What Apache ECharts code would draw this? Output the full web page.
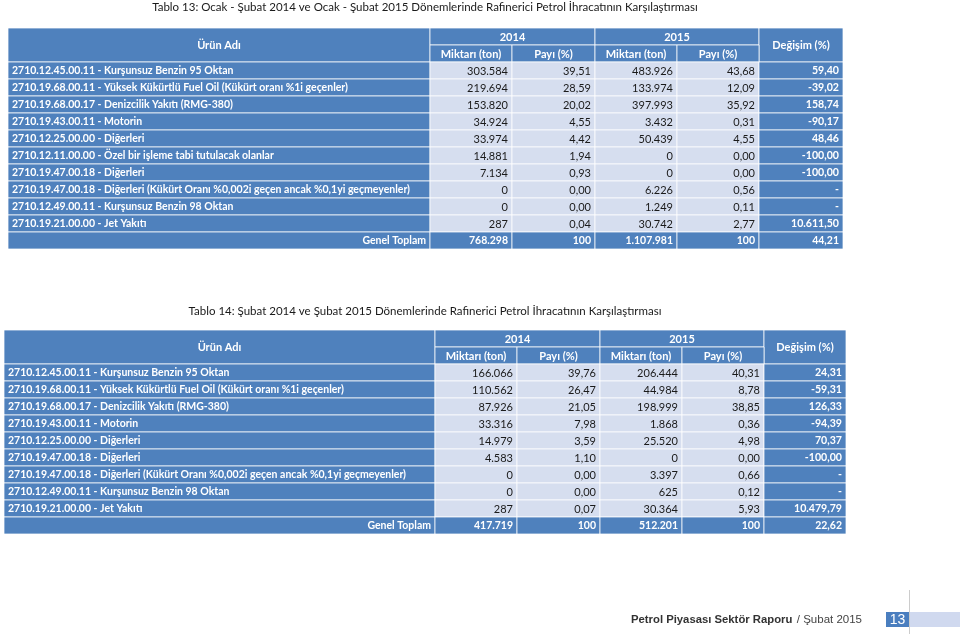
<!DOCTYPE html>
<html>
<head>
<meta charset="utf-8">
<script src="https://cdn.jsdelivr.net/npm/echarts@6/dist/echarts.min.js"></script>
<style>
html,body{margin:0;padding:0;background:#fff;}
#main{width:960px;height:634px;}
</style>
</head>
<body>
<div id="main"></div>
<script>
// ---------- DATA ----------
var title13 = 'Tablo 13: Ocak - Şubat 2014 ve Ocak - Şubat 2015 Dönemlerinde Rafinerici Petrol İhracatının Karşılaştırması';
var title14 = 'Tablo 14: Şubat 2014 ve Şubat 2015 Dönemlerinde Rafinerici Petrol İhracatının Karşılaştırması';
var headerYears = ['2014', '2015'];
var headerCols = ['Ürün Adı', 'Miktarı (ton)', 'Payı (%)', 'Miktarı (ton)', 'Payı (%)', 'Değişim (%)'];
var totalLabel = 'Genel Toplam';

var products13 = [
  '2710.12.45.00.11 - Kurşunsuz Benzin 95 Oktan',
  '2710.19.68.00.11 - Yüksek Kükürtlü Fuel Oil (Kükürt oranı %1i geçenler)',
  '2710.19.68.00.17 - Denizcilik Yakıtı (RMG-380)',
  '2710.19.43.00.11 - Motorin',
  '2710.12.25.00.00 - Diğerleri',
  '2710.12.11.00.00 - Özel bir işleme tabi tutulacak olanlar',
  '2710.19.47.00.18 - Diğerleri',
  '2710.19.47.00.18 - Diğerleri (Kükürt Oranı %0,002i geçen ancak %0,1yi geçmeyenler)',
  '2710.12.49.00.11 - Kurşunsuz Benzin 98 Oktan',
  '2710.19.21.00.00 - Jet Yakıtı'
];
var miktar2014_13 = [303584, 219694, 153820, 34924, 33974, 14881, 7134, 0, 0, 287];
var payi2014_13   = [39.51, 28.59, 20.02, 4.55, 4.42, 1.94, 0.93, 0.00, 0.00, 0.04];
var miktar2015_13 = [483926, 133974, 397993, 3432, 50439, 0, 0, 6226, 1249, 30742];
var payi2015_13   = [43.68, 12.09, 35.92, 0.31, 4.55, 0.00, 0.00, 0.56, 0.11, 2.77];
var degisim13     = [59.40, -39.02, 158.74, -90.17, 48.46, -100.00, -100.00, null, null, 10611.50];
var total13       = [768298, 100, 1107981, 100, 44.21];

var products14 = [
  '2710.12.45.00.11 - Kurşunsuz Benzin 95 Oktan',
  '2710.19.68.00.11 - Yüksek Kükürtlü Fuel Oil (Kükürt oranı %1i geçenler)',
  '2710.19.68.00.17 - Denizcilik Yakıtı (RMG-380)',
  '2710.19.43.00.11 - Motorin',
  '2710.12.25.00.00 - Diğerleri',
  '2710.19.47.00.18 - Diğerleri',
  '2710.19.47.00.18 - Diğerleri (Kükürt Oranı %0,002i geçen ancak %0,1yi geçmeyenler)',
  '2710.12.49.00.11 - Kurşunsuz Benzin 98 Oktan',
  '2710.19.21.00.00 - Jet Yakıtı'
];
var miktar2014_14 = [166066, 110562, 87926, 33316, 14979, 4583, 0, 0, 287];
var payi2014_14   = [39.76, 26.47, 21.05, 7.98, 3.59, 1.10, 0.00, 0.00, 0.07];
var miktar2015_14 = [206444, 44984, 198999, 1868, 25520, 0, 3397, 625, 30364];
var payi2015_14   = [40.31, 8.78, 38.85, 0.36, 4.98, 0.00, 0.66, 0.12, 5.93];
var degisim14     = [24.31, -59.31, 126.33, -94.39, 70.37, -100.00, null, null, 10479.79];
var total14       = [417719, 100, 512201, 100, 22.62];

// ---------- LAYOUT / STYLE ----------
var BLUE = '#4f81bd', LIGHT = '#d6deef';
var FONT = 'Lato, "Liberation Sans", sans-serif';
var FOOT = '"Liberation Sans", Arial, sans-serif';
var SIZE = { name: 10.5, val: 11, deg: 10.6, tot: 10.5, hc: 11 };

function grp(s) { return s.replace(/\B(?=(\d{3})+(?!\d))/g, '.'); }
function fmtInt(n) { return (n < 0 ? '-' : '') + grp(String(Math.abs(Math.round(n)))); }
function fmtDec(n) {
  if (n === null || n === undefined) return '-';
  var s = Math.abs(n).toFixed(2).split('.');
  return (n < 0 ? '-' : '') + grp(s[0]) + ',' + s[1];
}

function buildTable(edges, products, m14, p14, m15, p15, deg, tot) {
  var data = [], meta = [];
  function add(c0, c1, r0, r1, text, kind) {
    data.push([edges[c0], edges[c1], r0, r1]);
    meta.push({ text: text, kind: kind });
  }
  add(0, 1, 0, 1, headerCols[0], 'hc');
  add(1, 3, 0, 0, headerYears[0], 'hc');
  add(3, 5, 0, 0, headerYears[1], 'hc');
  add(5, 6, 0, 1, headerCols[5], 'hc');
  for (var c = 1; c <= 4; c++) add(c, c + 1, 1, 1, headerCols[c], 'hc');
  for (var i = 0; i < products.length; i++) {
    var r = i + 2;
    add(0, 1, r, r, products[i], 'name');
    add(1, 2, r, r, fmtInt(m14[i]), 'val');
    add(2, 3, r, r, fmtDec(p14[i]), 'val');
    add(3, 4, r, r, fmtInt(m15[i]), 'val');
    add(4, 5, r, r, fmtDec(p15[i]), 'val');
    add(5, 6, r, r, fmtDec(deg[i]), 'deg');
  }
  var rt = products.length + 2;
  add(0, 1, rt, rt, totalLabel, 'tot');
  add(1, 2, rt, rt, fmtInt(tot[0]), 'tot');
  add(2, 3, rt, rt, fmtInt(tot[1]), 'tot');
  add(3, 4, rt, rt, fmtInt(tot[2]), 'tot');
  add(4, 5, rt, rt, fmtInt(tot[3]), 'tot');
  add(5, 6, rt, rt, fmtDec(tot[4]), 'tot');
  var rows = [];
  for (var k = 0; k <= rt; k++) rows.push('r' + k);
  return { data: data, meta: meta, rows: rows };
}

var edges13 = [0, 422, 504, 587, 669, 751, 835];
var edges14 = [0, 431, 513, 596, 678, 760, 842];
var t13 = buildTable(edges13, products13, miktar2014_13, payi2014_13, miktar2015_13, payi2015_13, degisim13, total13);
var t14 = buildTable(edges14, products14, miktar2014_14, payi2014_14, miktar2015_14, payi2015_14, degisim14, total14);

function makeRender(meta) {
  return function (params, api) {
    var m = meta[params.dataIndex];
    var x0 = api.value(0), x1 = api.value(1), r0 = api.value(2), r1 = api.value(3);
    var h = api.size([0, 1])[1];
    var p0 = api.coord([x0, r0]);
    var p1 = api.coord([x1, r1]);
    var top = p0[1] - h / 2, bottom = p1[1] + h / 2;
    var left = p0[0], right = p1[0];
    var fill = (m.kind === 'val') ? LIGHT : BLUE;
    var isBold = m.kind !== 'val';
    var color = m.kind === 'val' ? '#1a1a1a' : '#ffffff';
    var align, tx;
    if (m.kind === 'hc') { align = 'center'; tx = (left + right) / 2; }
    else if (m.kind === 'name') { align = 'left'; tx = left + 4; }
    else { align = 'right'; tx = right - 4; }
    return {
      type: 'group',
      children: [
        { type: 'rect', shape: { x: left, y: top, width: right - left, height: bottom - top },
          style: { fill: fill, stroke: 'rgba(255,255,255,0.75)', lineWidth: 1 } },
        { type: 'text', style: { text: m.text, x: tx, y: (top + bottom) / 2 + 0.5, fill: color,
          font: (isBold ? 'bold ' : '') + SIZE[m.kind] + 'px ' + FONT, align: align, verticalAlign: 'middle' } }
      ]
    };
  };
}

var chart = echarts.init(document.getElementById('main'), null, { renderer: 'canvas' });
var option = {
  backgroundColor: '#ffffff',
  animation: false,
  title: [
    { text: title13, left: 425, top: 0, textAlign: 'center', padding: 0,
      textStyle: { fontFamily: FONT, fontSize: 11.5, fontWeight: 'normal', color: '#1a1a1a', lineHeight: 15 } },
    { text: title14, left: 425, top: 304, textAlign: 'center', padding: 0,
      textStyle: { fontFamily: FONT, fontSize: 11.5, fontWeight: 'normal', color: '#1a1a1a', lineHeight: 15 } }
  ],
  grid: [
    { left: 8, top: 28, width: 835, height: 17 * t13.rows.length },
    { left: 4, top: 330, width: 842, height: 17 * t14.rows.length }
  ],
  xAxis: [
    { type: 'value', gridIndex: 0, min: 0, max: 835, show: false },
    { type: 'value', gridIndex: 1, min: 0, max: 842, show: false }
  ],
  yAxis: [
    { type: 'category', gridIndex: 0, data: t13.rows, inverse: true, show: false },
    { type: 'category', gridIndex: 1, data: t14.rows, inverse: true, show: false }
  ],
  series: [
    { type: 'custom', xAxisIndex: 0, yAxisIndex: 0, data: t13.data, renderItem: makeRender(t13.meta), silent: true },
    { type: 'custom', xAxisIndex: 1, yAxisIndex: 1, data: t14.data, renderItem: makeRender(t14.meta), silent: true }
  ],
  graphic: [
    { type: 'line', shape: { x1: 909.5, y1: 590, x2: 909.5, y2: 634 }, style: { stroke: '#cccccc', lineWidth: 1 } },
    { type: 'rect', shape: { x: 910, y: 612, width: 50, height: 15 }, style: { fill: '#d0d9ef' } },
    { type: 'rect', shape: { x: 886, y: 612, width: 23, height: 15 }, style: { fill: '#4a7ebf' } },
    { type: 'text', style: { text: '13', x: 897.5, y: 620, fill: '#ffffff', font: '14px ' + FOOT, align: 'center', verticalAlign: 'middle' } },
    { type: 'text', style: { text: 'Petrol Piyasası Sektör Raporu', x: 631, y: 620, fill: '#333333', font: 'bold 11.3px ' + FOOT, align: 'left', verticalAlign: 'middle' } },
    { type: 'text', style: { text: '/ Şubat 2015', x: 862, y: 620, fill: '#444444', font: '11.5px ' + FOOT, align: 'right', verticalAlign: 'middle' } }
  ]
};
chart.setOption(option);
</script>
</body>
</html>
